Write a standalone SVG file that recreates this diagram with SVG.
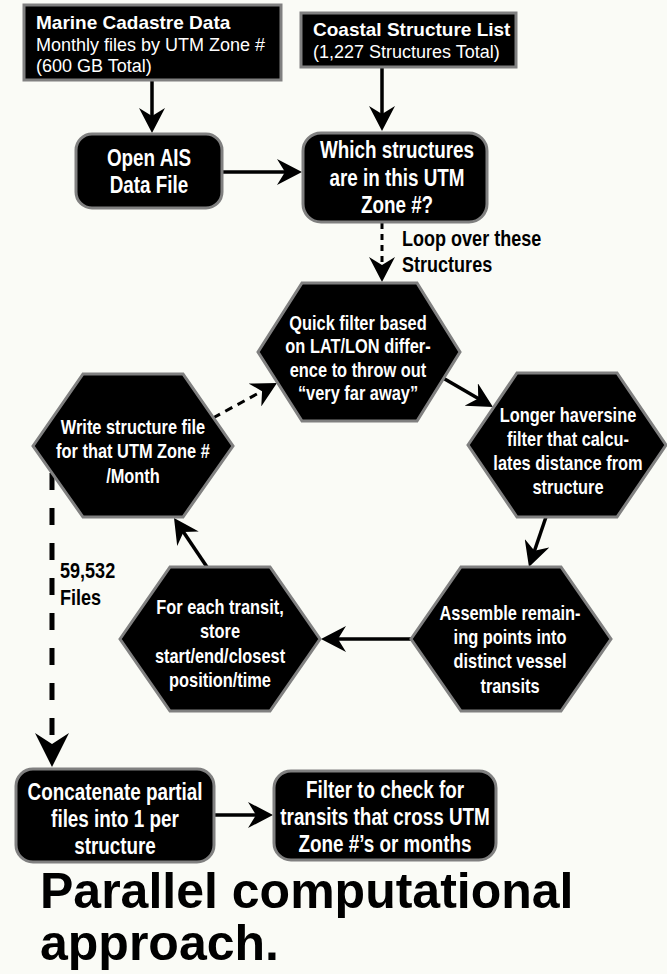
<svg xmlns="http://www.w3.org/2000/svg" width="667" height="974" viewBox="0 0 667 974">
<style>
.box{fill:#000;stroke:#808080;stroke-width:3}
.hd{font-family:"Liberation Sans",Arial,sans-serif;font-weight:bold;font-size:19px;fill:#fff}
.sub{font-family:"Liberation Sans",Arial,sans-serif;font-size:18px;fill:#fff}
.nt{font-family:"Liberation Sans",Arial,sans-serif;font-weight:bold;font-size:23px;fill:#fff;text-anchor:middle}
.ht{font-family:"Liberation Sans",Arial,sans-serif;font-weight:bold;font-size:20px;fill:#fff;text-anchor:middle}
.lb{font-family:"Liberation Sans",Arial,sans-serif;font-weight:bold;font-size:22px;fill:#000}
.title{font-family:"Liberation Sans",Arial,sans-serif;font-weight:bold;font-size:50px;fill:#000}
.c{fill:none;stroke:#000;stroke-width:3.5}
.dot{stroke-dasharray:6 5;stroke-width:3}
.dash{stroke-dasharray:8 6;stroke-width:3}
.long{stroke-dasharray:17 18;stroke-width:5}
</style>
<defs>
<marker id="ah" viewBox="-15 -13 25 26" markerWidth="25" markerHeight="26" refX="0" refY="0" orient="auto" markerUnits="userSpaceOnUse">
<path d="M10,0 L-15,-13 L-7,0 L-15,13 Z" fill="#000"/>
</marker>
<marker id="ahb" viewBox="-22 -17 34 34" markerWidth="34" markerHeight="34" refX="0" refY="0" orient="auto" markerUnits="userSpaceOnUse">
<path d="M12,0 L-22,-17 L-11,0 L-22,17 Z" fill="#000"/>
</marker>
</defs>
<rect width="667" height="974" fill="#fafbf6"/>

<g id="connectors">
<line class="c" x1="152" y1="80" x2="152" y2="123" marker-end="url(#ah)"/>
<line class="c" x1="382" y1="67" x2="382" y2="121" marker-end="url(#ah)"/>
<line class="c" x1="223" y1="172" x2="292" y2="172" marker-end="url(#ah)"/>
<line class="c dot" x1="382" y1="223" x2="382" y2="272" marker-end="url(#ah)"/>
<line class="c" x1="443" y1="378" x2="484.3" y2="402" marker-end="url(#ah)"/>
<line class="c" x1="546" y1="517" x2="532.2" y2="557.5" marker-end="url(#ah)"/>
<line class="c" x1="411" y1="639" x2="331" y2="639" marker-end="url(#ah)"/>
<line class="c" x1="207" y1="567" x2="179.6" y2="526.3" marker-end="url(#ah)"/>
<line class="c dash" x1="213" y1="418" x2="268.2" y2="387.8" marker-end="url(#ah)"/>
<line class="c long" x1="52" y1="473" x2="52" y2="755" marker-end="url(#ahb)"/>
<line class="c" x1="215" y1="815" x2="263" y2="815" marker-end="url(#ah)"/>
</g>

<g id="marine">
<rect class="box" x="24" y="5" width="257" height="75"/>
<text class="hd" x="36" y="29">Marine Cadastre Data</text>
<text class="sub" x="36" y="51">Monthly files by UTM Zone #</text>
<text class="sub" x="36" y="72">(600 GB Total)</text>
</g>

<g id="coastal">
<rect class="box" x="301" y="13" width="215" height="54"/>
<text class="hd" x="313" y="36">Coastal Structure List</text>
<text class="sub" x="313" y="58">(1,227 Structures Total)</text>
</g>

<g id="openais">
<rect class="box" x="76" y="134" width="146" height="74" rx="16"/>
<g transform="translate(149,0) scale(0.82,1)">
<text class="nt" x="0" y="166">Open AIS</text>
<text class="nt" x="0" y="193">Data File</text>
</g>
</g>

<g id="which">
<rect class="box" x="303" y="133" width="184" height="89" rx="18"/>
<g transform="translate(397,0) scale(0.82,1)">
<text class="nt" x="0" y="158">Which structures</text>
<text class="nt" x="0" y="186">are in this UTM</text>
<text class="nt" x="0" y="213">Zone #?</text>
</g>
</g>

<g id="looplabel">
<g transform="translate(402,0) scale(0.82,1)">
<text class="lb" x="0" y="246">Loop over these</text>
<text class="lb" x="0" y="272">Structures</text>
</g>
</g>

<g id="quick">
<polygon class="box" points="258,352 302,283 417,283 460,352 417,421 302,421"/>
<g transform="translate(358,0) scale(0.82,1)">
<text class="ht" x="0" y="330">Quick filter based</text>
<text class="ht" x="0" y="353">on LAT/LON differ-</text>
<text class="ht" x="0" y="377">ence to throw out</text>
<text class="ht" x="0" y="400">“very far away”</text>
</g>
</g>

<g id="haversine">
<polygon class="box" points="468,445 517,373 617,373 666,445 617,517 517,517"/>
<g transform="translate(568,0) scale(0.82,1)">
<text class="ht" x="0" y="422">Longer haversine</text>
<text class="ht" x="0" y="446">filter that calcu-</text>
<text class="ht" x="0" y="470">lates distance from</text>
<text class="ht" x="0" y="494">structure</text>
</g>
</g>

<g id="write">
<polygon class="box" points="33,446 83,374 183,374 233,446 183,517 83,517"/>
<g transform="translate(133,0) scale(0.82,1)">
<text class="ht" x="0" y="434">Write structure file</text>
<text class="ht" x="0" y="458">for that UTM Zone #</text>
<text class="ht" x="0" y="483">/Month</text>
</g>
</g>

<g id="assemble">
<polygon class="box" points="411,639 461,567 561,567 611,639 561,711 461,711"/>
<g transform="translate(510,0) scale(0.82,1)">
<text class="ht" x="0" y="620">Assemble remain-</text>
<text class="ht" x="0" y="644">ing points into</text>
<text class="ht" x="0" y="668">distinct vessel</text>
<text class="ht" x="0" y="693">transits</text>
</g>
</g>

<g id="foreach">
<polygon class="box" points="120,639 170,567 270,567 320,639 270,711 170,711"/>
<g transform="translate(220,0) scale(0.82,1)">
<text class="ht" x="0" y="614">For each transit,</text>
<text class="ht" x="0" y="638">store</text>
<text class="ht" x="0" y="663">start/end/closest</text>
<text class="ht" x="0" y="687">position/time</text>
</g>
</g>

<g id="fileslabel">
<g transform="translate(60,0) scale(0.82,1)">
<text class="lb" x="0" y="578">59,532</text>
<text class="lb" x="0" y="605">Files</text>
</g>
</g>

<g id="concat">
<rect class="box" x="16" y="769" width="198" height="93" rx="17"/>
<g transform="translate(115,0) scale(0.82,1)">
<text class="nt" x="0" y="800">Concatenate partial</text>
<text class="nt" x="0" y="827">files into 1 per</text>
<text class="nt" x="0" y="854">structure</text>
</g>
</g>

<g id="filter">
<rect class="box" x="274" y="771" width="222" height="89" rx="17"/>
<g transform="translate(385,0) scale(0.82,1)">
<text class="nt" x="0" y="798">Filter to check for</text>
<text class="nt" x="0" y="825">transits that cross UTM</text>
<text class="nt" x="0" y="852">Zone #’s or months</text>
</g>
</g>

<g id="title">
<text class="title" x="40" y="908">Parallel computational</text>
<text class="title" x="40" y="960">approach.</text>
</g>
</svg>
